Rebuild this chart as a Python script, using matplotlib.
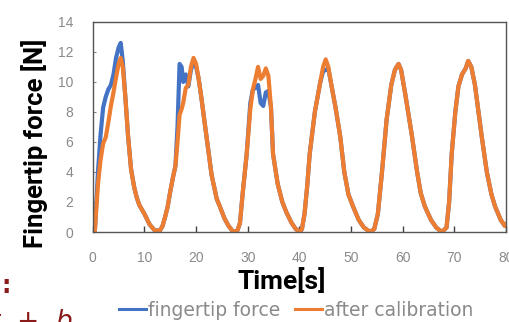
import matplotlib
matplotlib.use("Agg")
import matplotlib.pyplot as plt
from matplotlib.lines import Line2D

# time [s] and force [N]
time_s = [0, 0.4, 1, 1.5, 2, 2.5, 3, 3.5, 4, 4.5, 5, 5.4, 5.8, 6.3, 6.8, 7.4, 8, 8.5, 9, 10,
          11, 12, 13, 13.5, 14, 14.5, 15, 15.5, 16, 16.4, 16.8, 17.2, 17.5, 18, 18.5, 19, 19.5, 20, 20.5, 21,
          22, 23, 24, 24.6, 25.5, 26.3, 27.2, 28, 28.5, 29, 29.8, 30.5, 31, 31.5, 32, 32.5, 33, 33.5, 34, 34.5,
          34.9, 35.8, 36.7, 37.5, 38.5, 39.3, 40.1, 40.5, 41, 41.5, 42, 43, 44, 44.6, 45.1, 45.6, 46.3, 47, 47.9, 48.7,
          49.5, 50.4, 51.5, 52.5, 53.7, 54.5, 55.2, 56, 56.9, 57.8, 58.5, 59.2, 59.7, 60.5, 61.8, 62.8, 63.5, 64.3,
          65.5, 66.5, 67.6, 68.5, 69, 69.5, 70.2, 70.8, 71.5, 72.2, 72.7, 73.3, 74, 75.3, 76.3, 77.2, 77.9, 79,
          79.8, 80]

after_calibration = [0.5, 0.1, 3.2, 4.8, 5.9, 6.3, 7.3, 8.4, 9.3, 10.3, 11.2, 11.6, 11.0, 9.0, 6.5, 4.2, 3.0, 2.3, 1.8, 1.2,
                     0.5, 0.1, 0.1, 0.4, 1.0, 1.7, 2.7, 3.6, 4.4, 6.0, 7.8, 8.2, 8.6, 9.6, 9.8, 11.0, 11.6, 11.2, 10.2, 9.0,
                     6.4, 3.8, 2.2, 1.7, 0.9, 0.4, 0.0, 0.1, 0.6, 2.5, 5.2, 8.2, 9.5, 10.2, 11.0, 10.2, 10.4, 10.9, 10.4, 8.3,
                     5.2, 3.2, 2.0, 1.3, 0.6, 0.2, 0.0, 0.2, 1.2, 3.0, 5.2, 8.0, 9.9, 11.0, 11.5, 11.0, 9.6, 8.3, 6.4, 4.0,
                     2.5, 1.7, 0.8, 0.3, 0.0, 0.2, 1.2, 4.0, 7.5, 9.8, 10.8, 11.2, 10.8, 9.2, 6.4, 4.0, 2.6, 1.7,
                     0.8, 0.3, 0.0, 0.3, 2.0, 5.2, 8.0, 9.7, 10.5, 10.9, 11.4, 11.0, 9.8, 6.4, 4.0, 2.5, 1.7, 0.8,
                     0.4, 0.5]

fingertip_force = [0.3, 0.1, 4.0, 6.5, 8.3, 9.0, 9.5, 9.8, 10.5, 11.6, 12.3, 12.6, 11.4, 9.0, 6.5, 4.2, 3.0, 2.3, 1.8, 1.2,
                   0.5, 0.1, 0.1, 0.4, 1.0, 1.7, 2.7, 3.6, 4.4, 7.0, 11.2, 11.0, 10.0, 10.5, 9.7, 10.8, 11.3, 11.0, 10.2, 9.0,
                   6.4, 3.8, 2.2, 1.7, 0.9, 0.4, 0.0, 0.1, 0.6, 2.5, 5.2, 8.6, 9.5, 9.6, 9.8, 8.6, 8.4, 9.3, 9.4, 8.3,
                   5.2, 3.2, 2.0, 1.3, 0.6, 0.2, 0.0, 0.2, 1.2, 3.0, 5.2, 8.0, 9.9, 10.7, 10.8, 10.9, 9.6, 8.3, 6.4, 4.0,
                   2.5, 1.7, 0.8, 0.3, 0.0, 0.2, 1.2, 4.0, 7.5, 9.8, 10.8, 11.2, 10.8, 9.2, 6.4, 4.0, 2.6, 1.7,
                   0.8, 0.3, 0.0, 0.3, 2.0, 5.2, 8.0, 9.7, 10.5, 10.9, 11.4, 11.0, 9.8, 6.4, 4.0, 2.5, 1.7, 0.8,
                   0.4, 0.5]

x_ticks = [0, 10, 20, 30, 40, 50, 60, 70, 80]
y_ticks = [0, 2, 4, 6, 8, 10, 12, 14]

blue = "#4472C4"
orange = "#ED7D31"
grey = "#8a8a8a"

fig = plt.figure(figsize=(5.10, 3.22), dpi=100)
ax = fig.add_axes([0.182, 0.2795, 0.810, 0.6525])

ax.plot(time_s, fingertip_force, color=blue, lw=3.0, solid_joinstyle="round")
ax.plot(time_s, after_calibration, color=orange, lw=3.0, solid_joinstyle="round")

ax.set_xlim(0, 80)
ax.set_ylim(0, 14)
ax.set_xticks(x_ticks)
ax.set_yticks(y_ticks)
ax.tick_params(axis="x", direction="in", length=4, width=1, color="#404040",
               labelsize=10, labelcolor=grey, pad=14)
ax.tick_params(axis="y", direction="in", length=2, width=0.8, color="#808080",
               labelsize=10, labelcolor=grey, pad=14)
for lab in ax.get_xticklabels() + ax.get_yticklabels():
    lab.set_family("Liberation Sans")
for s in ax.spines.values():
    s.set_color("#555555")
    s.set_linewidth(1.0)

fig.text(0.0686, 0.556, "Fingertip force [N]", rotation=90, ha="center", va="center",
         fontsize=18.5, fontweight="bold", family="Roboto", color="black")
fig.text(0.553, 0.1025, "Time[s]", ha="center", va="baseline",
         fontsize=19, fontweight="bold", family="Roboto", color="black")

handles = [Line2D([], [], color=blue, lw=2.2), Line2D([], [], color=orange, lw=2.2)]
fig.legend(handles, ["fingertip force", "after calibration"], loc="center",
           bbox_to_anchor=(0.581, 0.037), ncol=2, frameon=False, fontsize=13.5,
           handlelength=1.45, handletextpad=0.1, columnspacing=0.8, labelcolor=grey)

# cropped text fragments at the left edge of the reference
fig.text(0.002, 0.112, ":", fontsize=17, fontweight="bold", color="#8B1A1A", va="center")
fig.text(-0.02, -0.022, "t  +  b", fontsize=19, style="italic", color="#8B1A1A")

fig.savefig("out.png", dpi=100)
